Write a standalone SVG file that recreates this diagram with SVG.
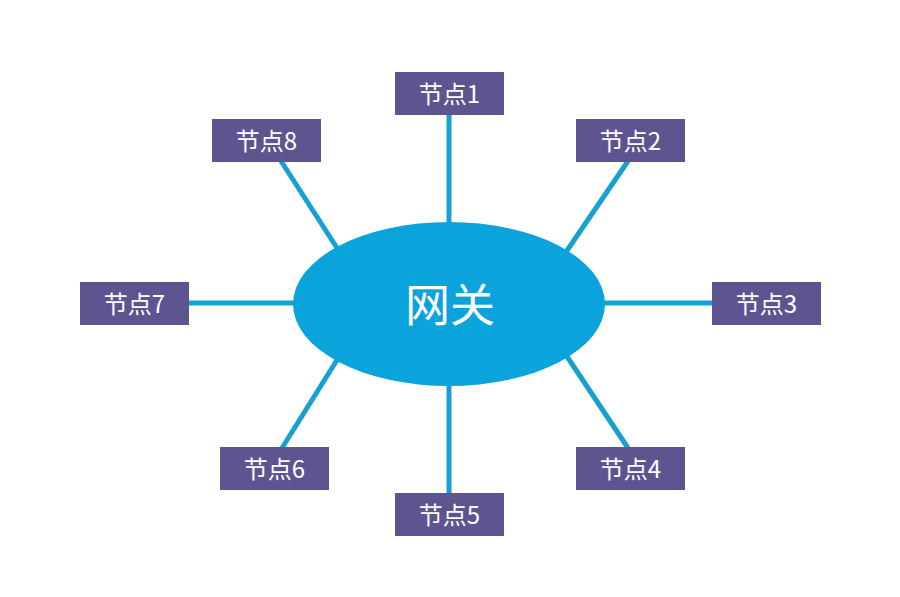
<svg xmlns="http://www.w3.org/2000/svg" width="900" height="597" viewBox="0 0 900 597">
<style>
.link{stroke:#17a0d2;stroke-width:5;fill:none}
.box{fill:#5e5590}
.lbl{fill:#ffffff;font-family:"Noto Sans CJK SC","Noto Sans",sans-serif;font-size:24px;text-anchor:middle;dominant-baseline:central}
.hub{fill:#0aa3dc}
.hubl{fill:#ffffff;font-family:"Noto Sans CJK SC","Noto Sans",sans-serif;font-size:45px;text-anchor:middle;dominant-baseline:central}
</style>
<rect width="900" height="597" fill="#ffffff"/>
<g id="connectors">
<line class="link" x1="449" y1="114" x2="449" y2="230"/>
<line class="link" x1="628" y1="161" x2="566" y2="252"/>
<line class="link" x1="600" y1="303" x2="713" y2="303"/>
<line class="link" x1="566" y1="355" x2="628" y2="448"/>
<line class="link" x1="449" y1="380" x2="449" y2="494"/>
<line class="link" x1="337" y1="360" x2="282" y2="448"/>
<line class="link" x1="188" y1="303" x2="300" y2="303"/>
<line class="link" x1="281" y1="161" x2="337" y2="248"/>
</g>
<g id="gateway">
<ellipse class="hub" cx="449" cy="304" rx="156" ry="82"/>
<text class="hubl" x="450" y="302">网关</text>
</g>
<g id="node1"><rect class="box" x="395" y="72" width="109" height="43"/><text class="lbl" x="449.5" y="92">节点1</text></g>
<g id="node2"><rect class="box" x="576" y="119" width="109" height="43"/><text class="lbl" x="630.5" y="139">节点2</text></g>
<g id="node3"><rect class="box" x="712" y="282" width="109" height="43"/><text class="lbl" x="766.5" y="302">节点3</text></g>
<g id="node4"><rect class="box" x="576" y="447" width="109" height="43"/><text class="lbl" x="630.5" y="467">节点4</text></g>
<g id="node5"><rect class="box" x="395" y="493" width="109" height="43"/><text class="lbl" x="449.5" y="513">节点5</text></g>
<g id="node6"><rect class="box" x="220" y="447" width="109" height="43"/><text class="lbl" x="274.5" y="467">节点6</text></g>
<g id="node7"><rect class="box" x="80" y="282" width="109" height="43"/><text class="lbl" x="134.5" y="302">节点7</text></g>
<g id="node8"><rect class="box" x="212" y="119" width="109" height="43"/><text class="lbl" x="266.5" y="139">节点8</text></g>
</svg>
